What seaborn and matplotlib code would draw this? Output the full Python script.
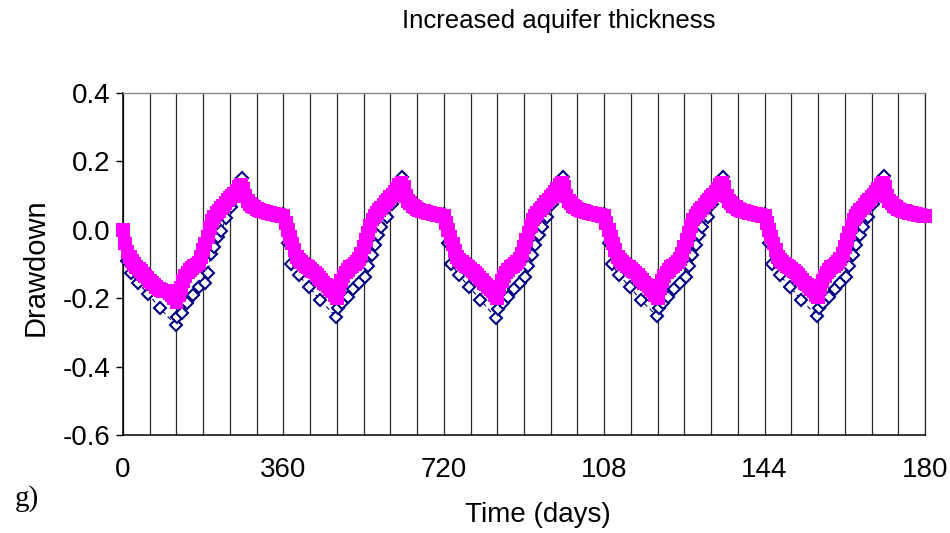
import numpy as np
import pandas as pd
import matplotlib
matplotlib.use("Agg")
import matplotlib.pyplot as plt
import seaborn as sns

# ---------------- data ----------------
title = "Increased aquifer thickness"
x_label = "Time (days)"
y_label = "Drawdown"
panel_tag = "g)"

x_tick_values = [0, 360, 720, 1080, 1440, 1800]
x_tick_labels = ["0", "360", "720", "108", "144", "180"]
y_tick_values = [-0.6, -0.4, -0.2, 0.0, 0.2, 0.4]
y_tick_labels = ["-0.6", "-0.4", "-0.2", "0.0", "0.2", "0.4"]

cycle_starts = [0, 360, 720, 1080, 1440]

# pink series: one value every 5 days, 72 values per 360-day cycle
pink_step = 5
pink_c1 = [0.000, -0.040, -0.065, -0.080, -0.090, -0.100, -0.110, -0.115, -0.120, -0.128,
           -0.135, -0.142, -0.150, -0.155, -0.160, -0.166, -0.172, -0.176, -0.180, -0.180,
           -0.180, -0.185, -0.190, -0.200, -0.210, -0.190, -0.170, -0.150, -0.135, -0.125,
           -0.118, -0.112, -0.107, -0.102, -0.096, -0.080, -0.060, -0.040, -0.020, 0.005,
           0.025, 0.038, 0.048, 0.056, 0.063, 0.070, 0.078, 0.086, 0.093, 0.100,
           0.106, 0.115, 0.125, 0.131, 0.120, 0.098, 0.085, 0.076, 0.070, 0.066,
           0.062, 0.059, 0.056, 0.054, 0.052, 0.050, 0.048, 0.047, 0.046, 0.044,
           0.043, 0.041]
pink_c2 = [0.040, 0.020, 0.000, -0.020, -0.040, -0.060, -0.080, -0.088, -0.095, -0.100,
           -0.105, -0.110, -0.115, -0.120, -0.125, -0.132, -0.140, -0.148, -0.155, -0.160,
           -0.165, -0.172, -0.180, -0.190, -0.200, -0.170, -0.150, -0.135, -0.125, -0.117,
           -0.110, -0.105, -0.100, -0.093, -0.085, -0.070, -0.050, -0.030, -0.010, 0.010,
           0.030, 0.040, 0.050, 0.058, 0.065, 0.072, 0.080, 0.088, 0.095, 0.102,
           0.110, 0.120, 0.130, 0.137, 0.125, 0.100, 0.085, 0.078, 0.070, 0.066,
           0.062, 0.059, 0.056, 0.054, 0.052, 0.050, 0.048, 0.047, 0.045, 0.044,
           0.042, 0.041]
pink_c3 = [0.040, 0.020, 0.000, -0.020, -0.041, -0.061, -0.080, -0.088, -0.095, -0.100,
           -0.105, -0.110, -0.115, -0.120, -0.126, -0.133, -0.140, -0.148, -0.155, -0.160,
           -0.166, -0.173, -0.180, -0.190, -0.200, -0.170, -0.150, -0.135, -0.125, -0.117,
           -0.110, -0.105, -0.100, -0.093, -0.085, -0.070, -0.050, -0.030, -0.010, 0.010,
           0.030, 0.040, 0.050, 0.058, 0.065, 0.072, 0.080, 0.088, 0.095, 0.102,
           0.110, 0.120, 0.130, 0.136, 0.125, 0.100, 0.085, 0.078, 0.070, 0.066,
           0.062, 0.059, 0.056, 0.054, 0.052, 0.050, 0.048, 0.047, 0.045, 0.044,
           0.042, 0.041]
pink_c4 = [0.040, 0.020, 0.000, -0.020, -0.040, -0.060, -0.080, -0.088, -0.095, -0.100,
           -0.105, -0.110, -0.115, -0.120, -0.125, -0.132, -0.140, -0.148, -0.155, -0.160,
           -0.165, -0.172, -0.180, -0.190, -0.201, -0.170, -0.150, -0.135, -0.125, -0.117,
           -0.110, -0.105, -0.100, -0.093, -0.085, -0.070, -0.050, -0.030, -0.010, 0.010,
           0.030, 0.040, 0.050, 0.058, 0.065, 0.072, 0.080, 0.088, 0.095, 0.102,
           0.110, 0.120, 0.130, 0.136, 0.125, 0.100, 0.085, 0.078, 0.070, 0.066,
           0.062, 0.059, 0.056, 0.054, 0.052, 0.050, 0.048, 0.047, 0.045, 0.044,
           0.042, 0.041]
pink_c5 = [0.040, 0.020, 0.000, -0.020, -0.040, -0.060, -0.080, -0.088, -0.095, -0.100,
           -0.105, -0.110, -0.115, -0.120, -0.125, -0.132, -0.140, -0.148, -0.155, -0.160,
           -0.165, -0.172, -0.180, -0.190, -0.198, -0.170, -0.150, -0.135, -0.125, -0.117,
           -0.110, -0.105, -0.100, -0.093, -0.085, -0.070, -0.050, -0.030, -0.010, 0.010,
           0.030, 0.040, 0.050, 0.058, 0.065, 0.072, 0.080, 0.088, 0.095, 0.102,
           0.110, 0.120, 0.130, 0.136, 0.125, 0.100, 0.085, 0.078, 0.070, 0.066,
           0.062, 0.059, 0.056, 0.054, 0.052, 0.050, 0.048, 0.047, 0.045, 0.044,
           0.042, 0.041]
pink_end = [0.040]

# blue series: irregular output times inside each cycle (day offsets)
blue_offsets = [0, 5, 10, 17, 34, 57, 82, 118, 122, 132, 144, 157, 170, 183, 190,
                198, 205, 213, 220, 232, 243, 254, 260, 267, 278, 292, 310, 330, 350]
blue_c1 = [0.0, -0.05, -0.09, -0.125, -0.156, -0.188, -0.228, -0.278, -0.254, -0.244,
           -0.215, -0.19, -0.166, -0.156, -0.127, -0.07, -0.05, -0.02, -0.003, 0.035,
           0.068, 0.095, 0.12, 0.151, 0.10, 0.075, 0.062, 0.052, 0.046]
blue_c2 = [0.045, 0.01, -0.04, -0.10, -0.133, -0.166, -0.205, -0.254, -0.23, -0.213,
           -0.196, -0.172, -0.155, -0.137, -0.105, -0.075, -0.045, -0.015, 0.008, 0.038,
           0.075, 0.10, 0.12, 0.155, 0.10, 0.075, 0.062, 0.052, 0.046]
blue_c3 = [0.045, 0.01, -0.04, -0.10, -0.133, -0.166, -0.205, -0.258, -0.232, -0.213,
           -0.196, -0.172, -0.155, -0.137, -0.105, -0.075, -0.045, -0.015, 0.008, 0.038,
           0.075, 0.10, 0.12, 0.155, 0.10, 0.075, 0.062, 0.052, 0.046]
blue_c4 = [0.045, 0.01, -0.04, -0.10, -0.133, -0.166, -0.205, -0.252, -0.228, -0.213,
           -0.196, -0.172, -0.155, -0.137, -0.105, -0.075, -0.045, -0.015, 0.008, 0.038,
           0.075, 0.10, 0.12, 0.155, 0.10, 0.075, 0.062, 0.052, 0.046]
blue_c5 = [0.045, 0.01, -0.04, -0.10, -0.133, -0.166, -0.205, -0.252, -0.23, -0.213,
           -0.196, -0.172, -0.155, -0.137, -0.105, -0.075, -0.045, -0.015, 0.008, 0.038,
           0.075, 0.10, 0.12, 0.158, 0.10, 0.075, 0.062, 0.052, 0.046]
blue_end = [0.044]

# ---------------- build tables ----------------
pink_vals = pink_c1 + pink_c2 + pink_c3 + pink_c4 + pink_c5 + pink_end
pink_days = [i * pink_step for i in range(len(pink_vals))]
pink_df = pd.DataFrame({"day": pink_days, "drawdown": pink_vals})

blue_days, blue_vals = [], []
for start, vals in zip(cycle_starts, [blue_c1, blue_c2, blue_c3, blue_c4, blue_c5]):
    blue_days += [start + o for o in blue_offsets]
    blue_vals += vals
blue_days.append(1800)
blue_vals += blue_end
blue_df = pd.DataFrame({"day": blue_days, "drawdown": blue_vals})

# ---------------- plot ----------------
sns.set_style("white")
plt.rcParams["font.family"] = ["Liberation Sans", "DejaVu Sans"]
plt.rcParams["text.color"] = "black"
plt.rcParams["axes.labelcolor"] = "black"
plt.rcParams["xtick.color"] = "black"
plt.rcParams["ytick.color"] = "black"

fig = plt.figure(figsize=(9.5, 5.33), dpi=100)
ax = fig.add_axes([123 / 950, 1 - 435 / 533, 802 / 950, 342 / 533])

sns.lineplot(data=blue_df, x="day", y="drawdown", ax=ax, color="#000080",
             linewidth=0.8, linestyle=(0, (4, 3)), marker="D", markersize=6,
             markerfacecolor="white", markeredgecolor="#000080",
             markeredgewidth=1.5, zorder=3, estimator=None, sort=False,
             clip_on=False)
sns.scatterplot(data=pink_df, x="day", y="drawdown", ax=ax, marker="s", s=100,
                color="#FF00FF", edgecolor="none", linewidth=0, zorder=4,
                clip_on=False)

ax.set_xlim(0, 1800)
ax.set_ylim(-0.6, 0.4)
ax.set_xticks(x_tick_values)
ax.set_xticklabels(x_tick_labels)
ax.set_xticks(list(range(0, 1801, 60)), minor=True)
ax.set_yticks(y_tick_values)
ax.set_yticklabels(y_tick_labels)

ax.grid(False)
ax.xaxis.grid(True, which="both", color="#2a2a2a", linewidth=0.9)
ax.set_axisbelow(True)

ax.tick_params(axis="x", which="major", direction="out", length=5, width=1,
               color="black", labelcolor="black", pad=11, labelsize=20)
ax.tick_params(axis="x", which="minor", length=0)
ax.tick_params(axis="y", which="major", direction="out", length=5, width=1,
               color="black", labelcolor="black", pad=4, labelsize=20, left=True)

for side in ["left", "bottom"]:
    ax.spines[side].set_color("black")
    ax.spines[side].set_linewidth(1.1)
ax.spines["top"].set_color("#888888")
ax.spines["top"].set_linewidth(1.0)
ax.spines["right"].set_color("#2a2a2a")
ax.spines["right"].set_linewidth(0.9)

ax.set_xlabel(x_label, fontsize=20, color="black")
ax.set_ylabel(y_label, fontsize=21, color="black")
ax.xaxis.set_label_coords(0.517, -0.196)
ax.xaxis.label.set_va("top")
ax.yaxis.set_label_coords(-0.092, 0.49)

fig.text(559 / 950, 1 - 21 / 533, title, ha="center", va="center",
         fontsize=18.5, color="black")
fig.text(27 / 950, 1 - 499 / 533, panel_tag, ha="center", va="center",
         fontsize=21, color="black", family=["Liberation Serif", "DejaVu Serif"])

fig.savefig("out.png", dpi=100)
